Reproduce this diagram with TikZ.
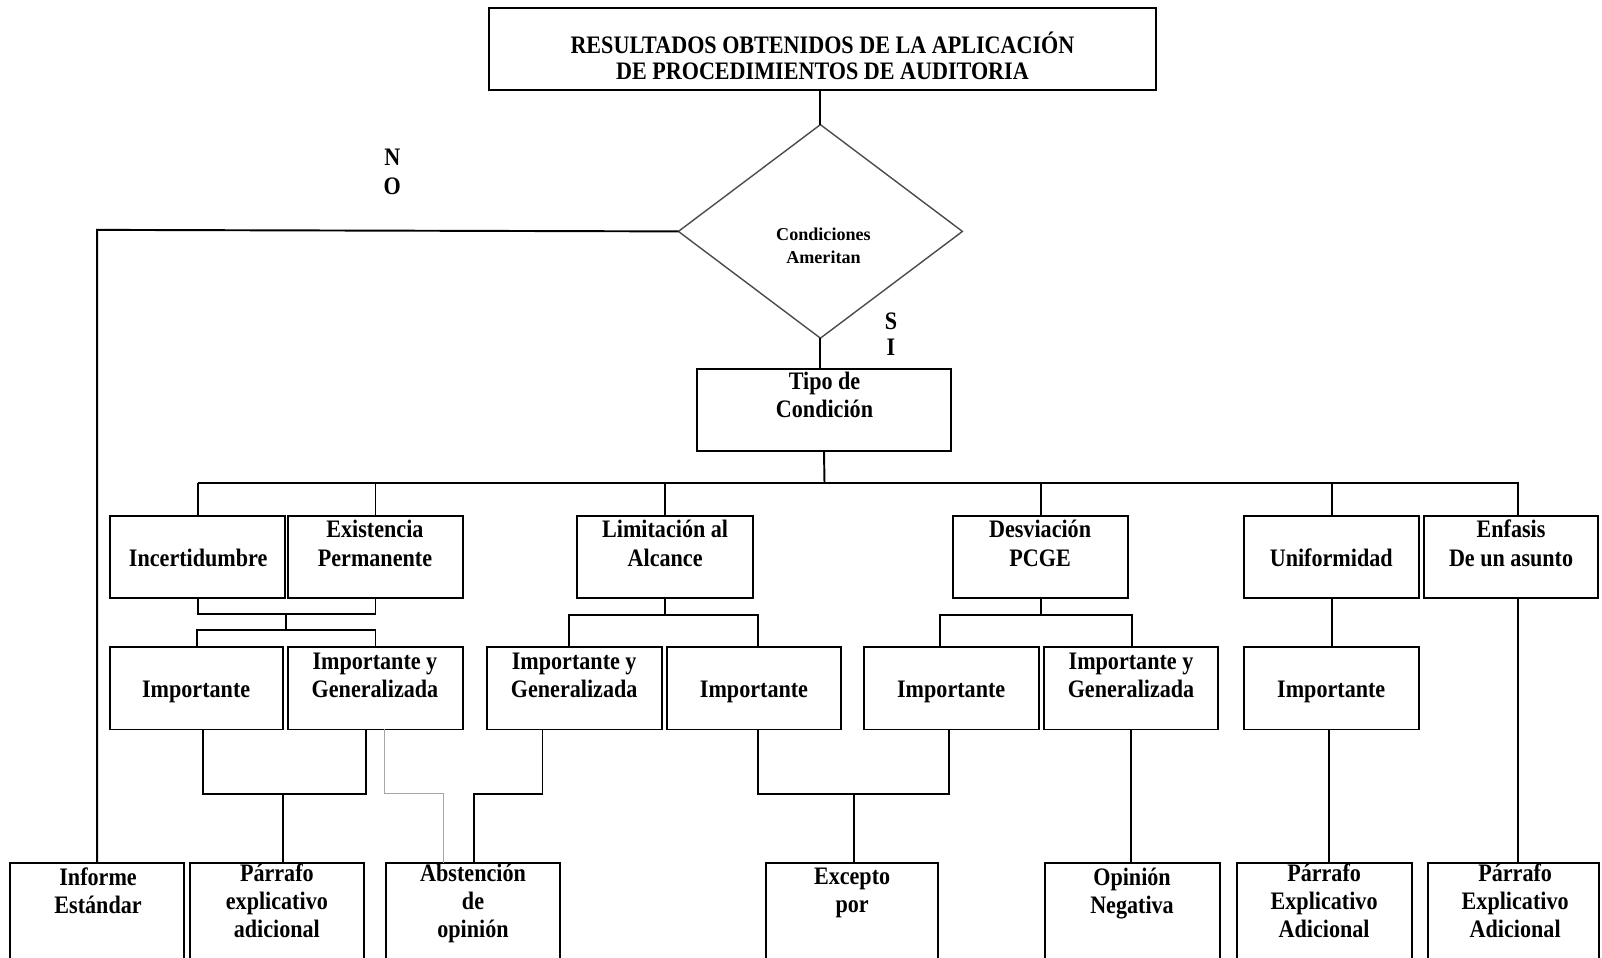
\documentclass[tikz,border=0pt]{standalone}
\usepackage{fontspec}
\usetikzlibrary{shapes.geometric,fit}
\newfontfamily\lbl{Liberation Serif}[FakeStretch=0.88]
\newfontfamily\dlbl{Liberation Serif}
\newlength\px
\setlength\px{0.020434cm}
% text nodes are anchored at the baseline of their last line
\tikzset{
  box/.style={draw, line width=1.1pt, inner sep=0pt, outer sep=0pt},
  txt/.style={font=\lbl\bfseries\fontsize{14.3}{16.1}\selectfont, align=center, anchor=base, inner sep=0pt},
  ttl/.style={txt, font=\lbl\bfseries\fontsize{14.3}{15.1}\selectfont},
  small/.style={txt, font=\dlbl\bfseries\fontsize{10.3}{13.4}\selectfont},
  link/.style={line width=1.1pt},
  faint/.style={line width=0.7pt, draw=gray!70},
}
\begin{document}
\begin{tikzpicture}[x=0.020434cm, y=-0.020434cm]
\useasboundingbox (0,0) rectangle (1568,937);
\fill[white] (0,0) rectangle (1568,937);
\clip (0,0) rectangle (1568,937);

% header and decision
\node[box, fit={(479,8) (1131,88)}] (top) {};
\node[ttl] (top-t) at (805,78) {RESULTADOS OBTENIDOS DE LA APLICACIÓN\\DE PROCEDIMIENTOS DE AUDITORIA};
\node[draw=gray!60!black, line width=0.8pt, shape=diamond, minimum width=278\px,
      minimum height=209\px, inner sep=0pt, outer sep=0pt] (dia) at (803,226.5) {};
\node[small] (dia-t) at (806,258) {Condiciones\\Ameritan};
\node[txt] (no) at (384,190) {N\\O};
\node[txt, font=\lbl\bfseries\fontsize{14.3}{14.6}\selectfont] (si) at (872,348) {S\\I};

\node[box, fit={(682,361) (931,441)}] (tipo) {};
\node[txt] (tipo-t) at (807,409) {Tipo de\\Condición};

% first level
\node[box, fit={(108,505) (279,585)}] (inc) {};
\node[txt] (inc-t) at (194,554) {Incertidumbre};
\node[box, fit={(282,505) (453,585)}] (exi) {};
\node[txt] (exi-t) at (367,554) {Existencia\\Permanente};
\node[box, fit={(565,505) (737,585)}] (lim) {};
\node[txt] (lim-t) at (651,554) {Limitación al\\Alcance};
\node[box, fit={(933,505) (1104,585)}] (desv) {};
\node[txt] (desv-t) at (1018,554) {Desviación\\PCGE};
\node[box, fit={(1218,505) (1389,585)}] (uni) {};
\node[txt] (uni-t) at (1303,554) {Uniformidad};
\node[box, fit={(1394,505) (1564,585)}] (enf) {};
\node[txt] (enf-t) at (1479,554) {Enfasis\\De un asunto};

% second level
\node[box, fit={(108,633) (277,714)}] (imp1) {};
\node[txt] (imp1-t) at (192,683) {Importante};
\node[box, fit={(282,633) (453,714)}] (iyg1) {};
\node[txt] (iyg1-t) at (367,683) {Importante y\\Generalizada};
\node[box, fit={(477,633) (648,714)}] (iyg2) {};
\node[txt] (iyg2-t) at (562,683) {Importante y\\Generalizada};
\node[box, fit={(653,633) (823,714)}] (imp2) {};
\node[txt] (imp2-t) at (738,683) {Importante};
\node[box, fit={(846,633) (1017,714)}] (imp3) {};
\node[txt] (imp3-t) at (931,683) {Importante};
\node[box, fit={(1022,633) (1192,714)}] (iyg3) {};
\node[txt] (iyg3-t) at (1107,683) {Importante y\\Generalizada};
\node[box, fit={(1218,633) (1389,714)}] (imp4) {};
\node[txt] (imp4-t) at (1303,683) {Importante};

% outcomes
\node[box, fit={(10,845) (180,975)}] (inf) {};
\node[txt] (inf-t) at (96,894) {Informe\\Estándar};
\node[box, fit={(186,845) (356,975)}] (par1) {};
\node[txt] (par1-t) at (271,918) {Párrafo\\explicativo\\adicional};
\node[box, fit={(378,845) (548,975)}] (abs) {};
\node[txt] (abs-t) at (463,918) {Abstención\\de\\opinión};
\node[box, fit={(750,845) (918,975)}] (exc) {};
\node[txt] (exc-t) at (834,893) {Excepto\\por};
\node[box, fit={(1023,845) (1194,975)}] (opn) {};
\node[txt] (opn-t) at (1108,894) {Opinión\\Negativa};
\node[box, fit={(1211,845) (1382,975)}] (pe1) {};
\node[txt] (pe1-t) at (1296,918) {Párrafo\\Explicativo\\Adicional};
\node[box, fit={(1398,845) (1565,975)}] (pe2) {};
\node[txt] (pe2-t) at (1483,918) {Párrafo\\Explicativo\\Adicional};

% header connectors
\draw[link] (top.south -| dia.north) -- (dia.north);
\draw[link] (dia.south) -- (dia.south |- tipo.north);
\coordinate (nBend) at (95,225);
\draw[link] (dia.west) -- (nBend) -- (nBend |- inf.north);

% distribution bus
\coordinate (bus) at (807,473);
\coordinate (busR) at (1486,473);
\draw[link] (tipo.south) -- (bus);
\draw[link] (inc.north |- bus) -- (busR) -- (busR |- enf.north);
\foreach \n in {inc,exi,lim,desv,uni}
  \draw[link] (\n.north |- bus) -- (\n.north);

% first to second level
\coordinate (aU) at (280,601);
\coordinate (aL) at (280,617);
\draw[link] (inc.south) |- (aU) -| (exi.south);
\draw[link] (aU) -- (aL);
\draw[link] (imp1.north) |- (aL) -| (iyg1.north);

\coordinate (bUL) at (557,602);
\coordinate (bUR) at (742,602);
\draw[link] (lim.south) -- (lim.south |- bUL);
\draw[link] (bUL |- iyg2.north) -- (bUL) -- (bUR) -- (bUR |- imp2.north);

\coordinate (cUL) at (920,602);
\coordinate (cUR) at (1108,602);
\draw[link] (desv.south) -- (desv.south |- cUL);
\draw[link] (cUL |- imp3.north) -- (cUL) -- (cUR) -- (cUR |- iyg3.north);

\draw[link] (uni.south) -- (imp4.north);
\draw[link] (busR |- enf.south) -- (busR |- pe2.north);

% second level to outcomes
\coordinate (dL) at (199,777);
\coordinate (dR) at (358,777);
\coordinate (dM) at (277,777);
\draw[link] (dL |- imp1.south) -- (dL) -- (dR) -- (dR |- iyg1.south);
\draw[link] (dM) -- (dM |- par1.north);

\coordinate (gA) at (376,777);
\coordinate (gB) at (434,777);
\draw[faint] (gA |- iyg1.south) -- (gA) -- (gB) -- (gB |- abs.north);

\coordinate (eA) at (531,777);
\coordinate (eB) at (464,777);
\draw[link] (eA |- iyg2.south) -- (eA) -- (eB) -- (eB |- abs.north);

\coordinate (fL) at (742,777);
\coordinate (fR) at (929,777);
\coordinate (fM) at (836,777);
\draw[link] (fL |- imp2.south) -- (fL) -- (fR) -- (fR |- imp3.south);
\draw[link] (fM) -- (fM |- exc.north);

\draw[link] (iyg3.south) -- (iyg3.south |- opn.north);
\coordinate (hX) at (1301,780);
\draw[link] (hX |- imp4.south) -- (hX |- pe1.north);
\end{tikzpicture}
\end{document}
